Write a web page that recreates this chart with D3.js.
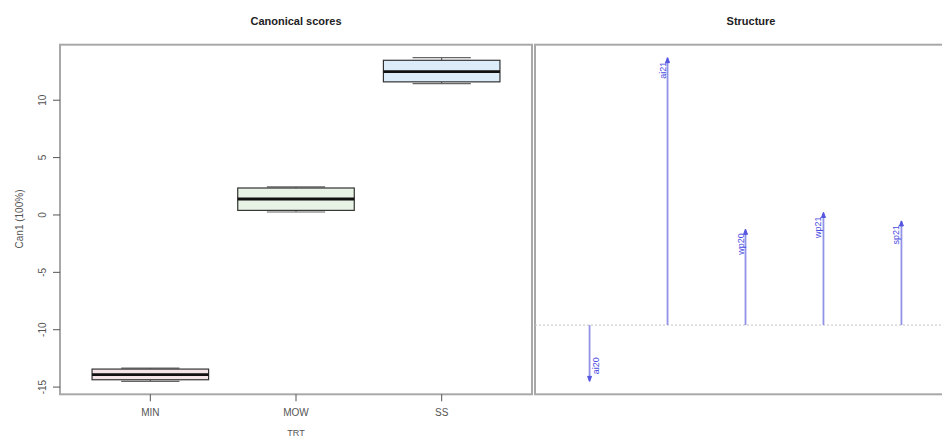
<!DOCTYPE html>
<html>
<head>
<meta charset="utf-8">
<script src="https://cdn.jsdelivr.net/npm/d3@7"></script>
<style>
  html, body { margin: 0; padding: 0; background: #fff; }
  svg { display: block; font-family: "Liberation Sans", Arial, sans-serif; }
</style>
</head>
<body>
<svg id="chart" width="942" height="439"></svg>
<script>
// Canonical scores per treatment (five-number summaries)
const groups = ["MIN", "MOW", "SS"];
const lowWhisker = [-14.50, 0.26, 11.45];
const lowerQ = [-14.36, 0.40, 11.60];
const medians = [-13.92, 1.39, 12.49];
const upperQ = [-13.43, 2.35, 13.48];
const highWhisker = [-13.34, 2.44, 13.71];
const boxFills = ["#f4e4e7", "#e7f3e4", "#dcecf8"];
const yTicks = [-15, -10, -5, 0, 5, 10];

// Structure coefficients of the variables on Can1
const variables = ["ai20", "ai21", "wp20", "wp21", "sp21"];
const structure = [-0.20, 0.95, 0.34, 0.40, 0.37];

const svg = d3.select("#chart");

// ---------- Left panel: boxplots of canonical scores ----------
const L = { x0: 60, x1: 532, y0: 44.7, y1: 394.3 };
const allVals = lowWhisker.concat(highWhisker);
const yMin = d3.min(allVals), yMax = d3.max(allVals);
const yPad = (yMax - yMin) * 0.04;
const y = d3.scaleLinear().domain([yMin - yPad, yMax + yPad]).range([L.y1, L.y0]);
const xPad = (groups.length) * 0.04;
const x = d3.scaleLinear().domain([0.5 - xPad, groups.length + 0.5 + xPad]).range([L.x0, L.x1]);

svg.append("rect").attr("x", L.x0).attr("y", L.y0)
  .attr("width", L.x1 - L.x0).attr("height", L.y1 - L.y0)
  .attr("fill", "none").attr("stroke", "#a8a8a8").attr("stroke-width", 2);

const halfBox = (x(2) - x(1)) * 0.4;
const halfStaple = halfBox / 2;

const box = svg.append("g").selectAll("g").data(groups).join("g");
box.each(function (g, i) {
  const s = d3.select(this);
  const cx = x(i + 1);
  // whiskers
  s.append("line").attr("x1", cx).attr("x2", cx).attr("y1", y(upperQ[i])).attr("y2", y(highWhisker[i]))
    .attr("stroke", "#444").attr("stroke-dasharray", "3,2");
  s.append("line").attr("x1", cx).attr("x2", cx).attr("y1", y(lowerQ[i])).attr("y2", y(lowWhisker[i]))
    .attr("stroke", "#444").attr("stroke-dasharray", "3,2");
  // staples
  [highWhisker[i], lowWhisker[i]].forEach(v => {
    s.append("line").attr("x1", cx - halfStaple).attr("x2", cx + halfStaple)
      .attr("y1", y(v)).attr("y2", y(v)).attr("stroke", "#666").attr("stroke-width", 1.2);
  });
  // box
  s.append("rect").attr("x", cx - halfBox).attr("width", 2 * halfBox)
    .attr("y", y(upperQ[i])).attr("height", y(lowerQ[i]) - y(upperQ[i]))
    .attr("fill", boxFills[i]).attr("stroke", "#333").attr("stroke-width", 1.2);
  // median
  s.append("line").attr("x1", cx - halfBox).attr("x2", cx + halfBox)
    .attr("y1", y(medians[i])).attr("y2", y(medians[i]))
    .attr("stroke", "#111").attr("stroke-width", 2.8);
});

// y axis ticks and rotated labels
const yAxis = svg.append("g");
yAxis.selectAll("line").data(yTicks).join("line")
  .attr("x1", L.x0 - 7).attr("x2", L.x0).attr("y1", d => y(d)).attr("y2", d => y(d))
  .attr("stroke", "#555");
yAxis.selectAll("text").data(yTicks).join("text")
  .attr("transform", d => `translate(46,${y(d)}) rotate(-90)`)
  .attr("text-anchor", "middle").attr("font-size", 10).attr("fill", "#555")
  .text(d => d);

// x axis ticks and labels
const xAxis = svg.append("g");
xAxis.selectAll("line").data(groups).join("line")
  .attr("x1", (d, i) => x(i + 1)).attr("x2", (d, i) => x(i + 1))
  .attr("y1", L.y1).attr("y2", L.y1 + 7).attr("stroke", "#555");
xAxis.selectAll("text").data(groups).join("text")
  .attr("x", (d, i) => x(i + 1)).attr("y", 416)
  .attr("text-anchor", "middle").attr("font-size", 10).attr("fill", "#555")
  .text(d => d);

svg.append("text").attr("x", (L.x0 + L.x1) / 2).attr("y", 436)
  .attr("text-anchor", "middle").attr("font-size", 9).attr("fill", "#555").text("TRT");
svg.append("text").attr("transform", `translate(23,219) rotate(-90)`)
  .attr("text-anchor", "middle").attr("font-size", 10).attr("fill", "#555").text("Can1 (100%)");
svg.append("text").attr("x", 296).attr("y", 25)
  .attr("text-anchor", "middle").attr("font-size", 11).attr("font-weight", "bold")
  .attr("fill", "#222").text("Canonical scores");

// ---------- Right panel: structure vectors ----------
const R = { x0: 535, x1: 956, y0: 44.7, y1: 394.3 };
const sMin = Math.min(0, d3.min(structure)), sMax = Math.max(0, d3.max(structure));
const sPad = (sMax - sMin) * 0.04;
const ys = d3.scaleLinear().domain([sMin - sPad, sMax + sPad]).range([R.y1, R.y0]);
const vPad = variables.length * 0.04;
const xs = d3.scaleLinear().domain([0.5 - vPad, variables.length + 0.5 + vPad]).range([R.x0, R.x1]);

svg.append("rect").attr("x", R.x0).attr("y", R.y0)
  .attr("width", R.x1 - R.x0).attr("height", R.y1 - R.y0)
  .attr("fill", "none").attr("stroke", "#a8a8a8").attr("stroke-width", 2);

svg.append("line").attr("x1", R.x0).attr("x2", R.x1).attr("y1", ys(0)).attr("y2", ys(0))
  .attr("stroke", "#c4c4c4").attr("stroke-dasharray", "2,2");

const vec = svg.append("g").selectAll("g").data(variables).join("g");
vec.each(function (v, i) {
  const s = d3.select(this);
  const cx = xs(i + 1);
  const tip = ys(structure[i]);
  const dir = structure[i] >= 0 ? 1 : -1;
  s.append("line").attr("x1", cx).attr("x2", cx).attr("y1", ys(0)).attr("y2", tip)
    .attr("stroke", "#9292e8").attr("stroke-width", 1.8);
  s.append("path")
    .attr("d", `M${cx - 2},${tip + dir * 5} L${cx},${tip} L${cx + 2},${tip + dir * 5} Z`)
    .attr("fill", "#5555e0").attr("stroke", "#5555e0").attr("stroke-width", 1);
  if (dir > 0) {
    s.append("text").attr("transform", `translate(${cx - 2},${tip + 4}) rotate(-90)`)
      .attr("text-anchor", "end").attr("font-size", 9).attr("fill", "#4a4ae0").text(v);
  } else {
    s.append("text").attr("transform", `translate(${cx + 9},${tip - 7}) rotate(-90)`)
      .attr("text-anchor", "start").attr("font-size", 9).attr("fill", "#4a4ae0").text(v);
  }
});

svg.append("text").attr("x", 751).attr("y", 25)
  .attr("text-anchor", "middle").attr("font-size", 11).attr("font-weight", "bold")
  .attr("fill", "#222").text("Structure");
</script>
</body>
</html>
